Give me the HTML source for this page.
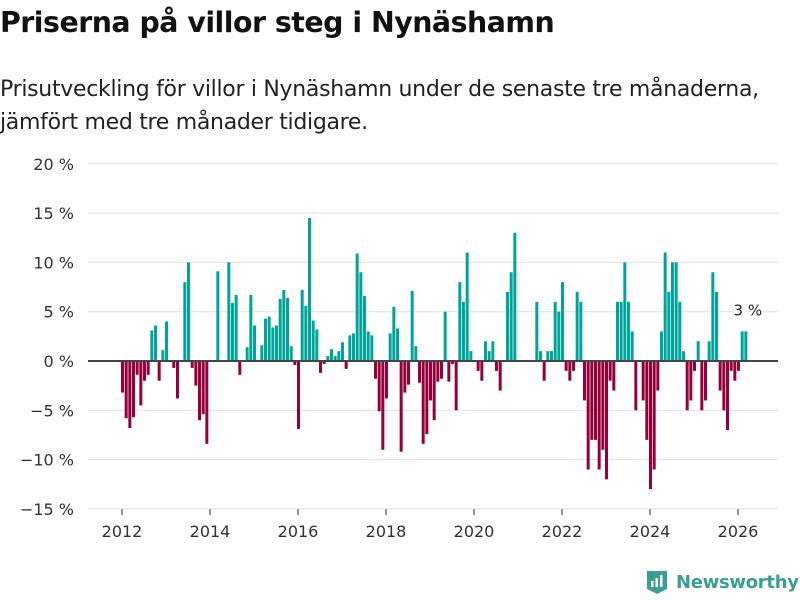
<!DOCTYPE html>
<html><head><meta charset="utf-8"><style>
body{margin:0;width:800px;height:600px;background:#fff;font-family:"Liberation Sans","DejaVu Sans",sans-serif;overflow:hidden;position:relative}
#title{position:absolute;left:0;top:6px;font-size:28.4px;font-weight:bold;color:#111;font-family:"DejaVu Sans","Liberation Sans",sans-serif;letter-spacing:-0.5px}
#sub{position:absolute;left:0;top:73px;font-size:22px;line-height:33px;color:#222;font-family:"DejaVu Sans","Liberation Sans",sans-serif;letter-spacing:-0.3px;white-space:nowrap}
#logo{position:absolute;left:644px;top:569px;display:flex;align-items:center;gap:6px;color:#3a9e94;font-weight:bold;font-size:18px;font-family:"DejaVu Sans","Liberation Sans",sans-serif;letter-spacing:-0.3px}
</style></head><body>
<div id="title">Priserna på villor steg i Nynäshamn</div>
<div id="sub">Prisutveckling för villor i Nynäshamn under de senaste tre månaderna,<br>jämfört med tre månader tidigare.</div>
<svg id="chart" width="800" height="600" style="position:absolute;left:0;top:0"></svg>
<div id="logo"><svg width="26" height="26" viewBox="0 0 26 26"><path d="M3 2h20v18l-10 5-10-5z" fill="#3a9e94"/><rect x="7" y="12" width="2.5" height="6" fill="#fff"/><rect x="11.5" y="9" width="2.5" height="9" fill="#fff"/><rect x="16" y="6" width="2.5" height="12" fill="#fff"/></svg><span>Newsworthy</span></div>
<script>
const startYear = 2012;
const values = [-3.2,-5.8,-6.8,-5.7,-1.4,-4.5,-2,-1.4,3.1,3.6,-2,1.1,4,0,-0.7,-3.8,0,8,10,-0.7,-2.5,-6,-5.4,-8.4,0,0,9.1,0,0,10,5.9,6.7,-1.4,0,1.4,6.7,3.6,0,1.6,4.3,4.5,3.4,3.6,6.3,7.2,6.4,1.5,-0.4,-6.9,7.2,5.6,14.5,4.1,3.2,-1.2,-0.3,0.5,1.2,0.5,1,1.9,-0.8,2.6,2.8,10.9,9,6.6,3,2.6,-1.8,-5.1,-9,-3.8,2.8,5.5,3.3,-9.2,-3.2,-2.4,7.1,1.5,-2.2,-8.4,-7.4,-4,-6,-2.1,-1.8,5,-2.1,-0.3,-5,8,6,11,1,0,-1,-2,2,1,2,-1,-3,0,7,9,13,0,0,0,0,0,6,1,-2,1,1,6,5,8,-1,-2,-1,7,6,-4,-11,-8,-8,-11,-9,-12,-2,-3,6,6,10,6,3,-5,0,-4,-8,-13,-11,-3,3,11,7,10,10,6,1,-5,-4,-1,2,-5,-4,2,9,7,-3,-5,-7,-1,-2,-1,3,3];
const yTicks = [20,15,10,5,0,-5,-10,-15];
const yTickLabels = ["20 %","15 %","10 %","5 %","0 %","\u22125 %","\u221210 %","\u221215 %"];
const xTicks = [2012,2014,2016,2018,2020,2022,2024,2026];
const lastLabel = "3 %";

const NS="http://www.w3.org/2000/svg";
const svg=document.getElementById('chart');
const y=v=>361-v*9.86;
const xYear=yr=>122+(yr-startYear)*44;
const xIdx=i=>122.5+i*44/12;
function mk(t,a){const e=document.createElementNS(NS,t);for(const k in a)e.setAttribute(k,a[k]);svg.appendChild(e);return e;}
yTicks.forEach((v,i)=>{
  if(v!==0){const g=mk('line',{x1:88,x2:778,y1:y(v),y2:y(v),stroke:'#e0e0e0','stroke-width':1});
  
  }
  const t=mk('text',{x:74,y:y(v)+6,'text-anchor':'end','font-size':16,fill:'#333','font-family':'DejaVu Sans, Liberation Sans, sans-serif'});
  t.textContent=yTickLabels[i];
  
  
});
xTicks.forEach(yr=>{
  const l=mk('line',{x1:xYear(yr),x2:xYear(yr),y1:509,y2:515,stroke:'#333','stroke-width':1});
  
  
  const t=mk('text',{x:xYear(yr),y:537,'text-anchor':'middle','font-size':16,fill:'#333','font-family':'DejaVu Sans, Liberation Sans, sans-serif'});
  t.textContent=yr;
  
  
});
values.forEach((v,i)=>{
  if(v===0)return;
  const b=mk('rect',{x:xIdx(i)-1.5,width:3,y:Math.min(y(v),y(0)),height:Math.abs(y(v)-y(0)),fill:v>0?'#00a59a':'#96003a'});
  
  
});
const z=mk('line',{x1:88,x2:778,y1:y(0),y2:y(0),stroke:'#444','stroke-width':2});


const li=values.length-1;
const lt=mk('text',{x:xIdx(li)+2,y:y(values[li])-16,'text-anchor':'middle','font-size':15,fill:'#222','font-family':'DejaVu Sans, Liberation Sans, sans-serif',stroke:'#fff','stroke-width':3,'paint-order':'stroke'});
lt.textContent=lastLabel;


</script>
</body></html>
